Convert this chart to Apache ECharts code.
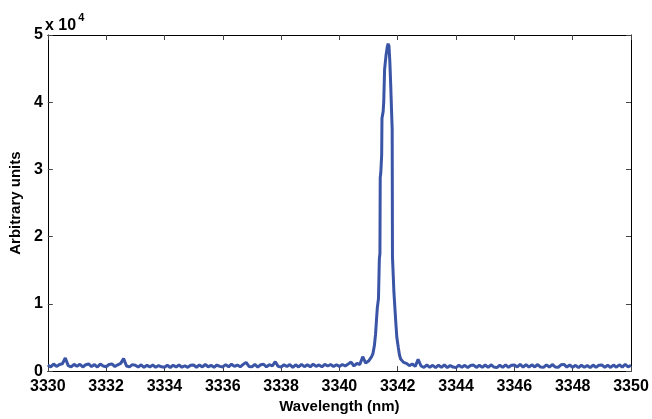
<!DOCTYPE html>
<html>
<head>
<meta charset="utf-8">
<script src="https://cdn.jsdelivr.net/npm/echarts@6/dist/echarts.min.js"></script>
<style>
  html, body { margin: 0; padding: 0; background: #fff; }
  #chart { width: 652px; height: 419px; }
</style>
</head>
<body>
<div id="chart"></div>
<script>
// spectrum, counts in arbitrary units
// left baseline: 3330.0 .. 3340.9, sampled every 0.1 nm
var leftStart = 3330.0;
var leftCounts = [
  900, 620, 1050, 700, 980, 1100, 1950, 820, 640, 1000,
  720, 1020, 620, 940, 1060, 660, 980, 600, 1040, 760,
  640, 980, 1060, 680, 940, 1150, 1850, 760, 620, 960,
  880, 600, 940, 560, 860, 620, 900, 560, 820, 640,
  560, 860, 540, 880, 600, 900, 580, 800, 560, 860,
  900, 580, 920, 620, 980, 640, 860, 580, 900, 700,
  620, 960, 640, 1020, 700, 900, 640, 1000, 1300, 700,
  640, 1000, 600, 940, 1020, 620, 960, 760, 1400, 700,
  600, 940, 680, 980, 560, 940, 620, 1000, 660, 960,
  640, 1040, 700, 920, 640, 1000, 760, 980, 680, 940,
  700, 980, 760, 1040, 1350, 760, 1150, 980, 2150, 1200
];
// the line itself, irregular steps
var peakWl = [
  3341.00, 3341.10, 3341.15, 3341.20, 3341.24, 3341.27, 3341.30, 3341.34,
  3341.37, 3341.39, 3341.40, 3341.42, 3341.45, 3341.46, 3341.50, 3341.52,
  3341.55, 3341.60, 3341.64, 3341.67, 3341.70, 3341.73, 3341.76, 3341.79,
  3341.81, 3341.82, 3341.87, 3341.93, 3341.97, 3342.02, 3342.06, 3342.10,
  3342.15, 3342.20
];
var peakCounts = [
  1500, 2100, 2600, 3800, 5500, 7500, 9400, 10800,
  16700, 17500, 28800, 29500, 32200, 37600, 38600, 40000,
  44900, 47000, 48200, 48700, 48400, 46000, 42500, 38500,
  36000, 17000, 11700, 7500, 5000, 3500, 2400, 1800,
  2000, 1300
];
// right baseline: 3342.3 .. 3350.0, every 0.1 nm
var rightStart = 3342.3;
var rightCounts = [
  1150, 820, 1050, 700, 1750, 760, 560,
  900, 560, 860, 520, 880, 560, 920, 520, 840, 600,
  520, 880, 560, 860, 520, 820, 900, 540, 880, 560,
  900, 560, 940, 600, 520, 880, 560, 920, 560, 860,
  920, 620, 1000, 600, 980, 580, 940, 620, 980, 600,
  560, 920, 600, 980, 620, 560, 940, 1000, 600, 900,
  560, 860, 520, 880, 560, 840, 520, 900, 560, 860,
  920, 560, 880, 540, 900, 580, 940, 600, 1000, 620,
  880
];
var xTicks = [3330, 3350, 2];
var yTicks = [0, 50000, 10000];

var data = [];
var i;
for (i = 0; i < leftCounts.length; i++) {
  data.push([+(leftStart + i * 0.1).toFixed(2), leftCounts[i]]);
}
for (i = 0; i < peakWl.length; i++) {
  data.push([peakWl[i], peakCounts[i]]);
}
for (i = 0; i < rightCounts.length; i++) {
  data.push([+(rightStart + i * 0.1).toFixed(2), rightCounts[i]]);
}

var font = '"Liberation Sans", Arial, sans-serif';
var lbl = { color: '#000', fontFamily: font, fontWeight: 'bold', fontSize: 16 };
var line = { show: true, onZero: false, lineStyle: { color: '#000', width: 1 } };
var tick = { show: true, inside: true, length: 5, lineStyle: { color: '#444' } };

var myChart = echarts.init(document.getElementById('chart'));
var option = {
  animation: false,
  backgroundColor: '#fff',
  grid: { left: 45, right: 21, top: 35, bottom: 42 },
  xAxis: [{
    type: 'value', min: xTicks[0], max: xTicks[1], interval: xTicks[2],
    position: 'bottom',
    axisLine: line, axisTick: tick, splitLine: { show: false },
    axisLabel: Object.assign({ margin: 7, formatter: function (v) { return String(v); } }, lbl),
    name: 'Wavelength (nm)', nameLocation: 'middle', nameGap: 25,
    nameTextStyle: { color: '#000', fontFamily: font, fontWeight: 'bold', fontSize: 15 }
  }, {
    type: 'value', min: xTicks[0], max: xTicks[1], interval: xTicks[2],
    position: 'top',
    axisLine: line, axisTick: tick, splitLine: { show: false },
    axisLabel: { show: false }
  }],
  yAxis: [{
    type: 'value', min: yTicks[0], max: yTicks[1], interval: yTicks[2],
    position: 'left',
    axisLine: line, axisTick: tick, splitLine: { show: false },
    axisLabel: Object.assign({ margin: 5, formatter: function (v) { return v / 10000; } }, lbl),
    name: 'Arbitrary units', nameLocation: 'middle', nameGap: 20,
    nameTextStyle: { color: '#000', fontFamily: font, fontWeight: 'bold', fontSize: 15 }
  }, {
    type: 'value', min: yTicks[0], max: yTicks[1], interval: yTicks[2],
    position: 'right',
    axisLine: line, axisTick: tick, splitLine: { show: false },
    axisLabel: { show: false }
  }],
  graphic: [{
    type: 'text', left: 45, top: 12,
    style: {
      text: '{a|x 10}{b|4}',
      rich: {
        a: { fontFamily: font, fontWeight: 'bold', fontSize: 16, fill: '#000', padding: [9, 0, 0, 0] },
        b: { fontFamily: font, fontWeight: 'bold', fontSize: 11, fill: '#000', padding: [0, 0, 8, 2] }
      }
    }
  }],
  series: [{
    type: 'line',
    data: data,
    showSymbol: false,
    symbol: 'none',
    lineStyle: { color: '#3a54a6', width: 3 },
    xAxisIndex: 0,
    yAxisIndex: 0
  }]
};
myChart.setOption(option);
window.addEventListener('resize', function () { myChart.resize(); });
</script>
</body>
</html>
